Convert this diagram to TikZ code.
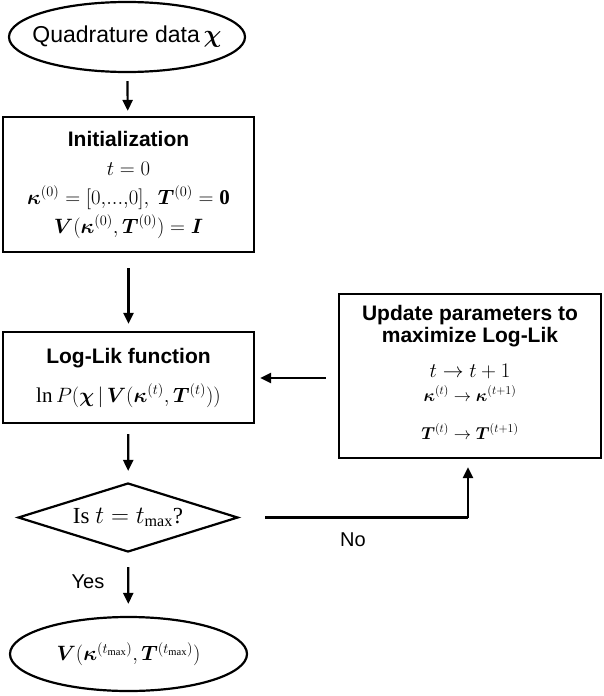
\documentclass[tikz,border=0pt]{standalone}
\usepackage{amsmath}
\usepackage{bm}
\usepackage{fontspec}
\setmainfont{Liberation Serif}
\newfontfamily\hv{Liberation Sans}
\usetikzlibrary{shapes.geometric,arrows.meta}
\begin{document}
\begin{tikzpicture}[x=1pt,y=-1pt,
  every node/.style={font=\fontsize{21}{29}\selectfont},
  lw/.style={line width=2.2pt},
  box/.style={draw,lw,rectangle,inner sep=0pt,align=center},
  arr/.style={lw,-{Triangle[length=11pt,width=10pt]}}
  ]
\useasboundingbox (0,0) rectangle (603,696);
\node[draw,lw,ellipse,minimum width=236pt,minimum height=70pt,inner sep=0pt,
  label={[font=\fontsize{23}{26}\selectfont]center:{\hv Quadrature data}\,$\bm{\chi}$}] (start) at (127,37) {};
\node[box,minimum width=251pt,minimum height=135pt] (init) at (128.5,184.5)
  {{\hv\bfseries Initialization}\\
   $t=0$\\
   $\bm{\kappa}^{(0)}=[0{,}...{,}0],\ \bm{T}^{(0)}=\mathbf{0}$\\
   $\bm{V}(\bm{\kappa}^{(0)},\bm{T}^{(0)})=\bm{I}$};
\node[box,minimum width=251pt,minimum height=91pt] (loglik) at (128.5,377.5)
  {{\hv\bfseries Log-Lik function}\\[10pt]
   $\ln P(\bm{\chi}\,|\,\bm{V}(\bm{\kappa}^{(t)},\bm{T}^{(t)}))$};
\node[box,minimum width=262pt,minimum height=164pt,font=\fontsize{21}{22}\selectfont] (upd) at (470,376)
  {{\hv\bfseries Update parameters to}\\
   {\hv\bfseries maximize Log-Lik}\\[13pt]
   $t\rightarrow t+1$\\[2pt]
   {\fontsize{17}{22}\selectfont$\bm{\kappa}^{(t)}\rightarrow\bm{\kappa}^{(t+1)}$}\\[16pt]
   {\fontsize{17}{22}\selectfont$\bm{T}^{(t)}\rightarrow\bm{T}^{(t+1)}$}\\[-14pt]};
\node[draw,lw,diamond,minimum width=220pt,minimum height=69pt,inner sep=0pt,
  label={[font=\fontsize{23}{26}\selectfont]center:{Is}\ $t=t_{\max}$?}] (dec) at (128,517.5) {};
\node[draw,lw,ellipse,minimum width=237pt,minimum height=74pt,inner sep=0pt,
  label={center:$\bm{V}(\bm{\kappa}^{(t_{\max})},\bm{T}^{(t_{\max})})$}] (end) at (128.5,654) {};
\coordinate (bend) at (468,517.5);
\draw[arr,shorten <=8pt,shorten >=5pt] (start) -- (init);
\draw[arr,shorten <=15pt,shorten >=7pt] (init) -- (loglik);
\draw[arr,shorten <=10pt,shorten >=11pt] (loglik) -- (dec);
\draw[arr,shorten <=14pt,shorten >=12pt] (dec) -- (end);
\draw[arr,shorten <=12pt,shorten >=5pt] (upd.west |- 0,378) -- (loglik.east |- 0,378);
\draw[lw,shorten <=26pt] (dec.east) -- (bend);
\draw[arr,shorten >=8pt] (bend) -- (bend |- upd.south);
\node[font=\hv\fontsize{20}{24}\selectfont] (no) at (353,540) {No};
\node[font=\hv\fontsize{20}{24}\selectfont] (yes) at (88,582) {Yes};
\end{tikzpicture}
\end{document}
